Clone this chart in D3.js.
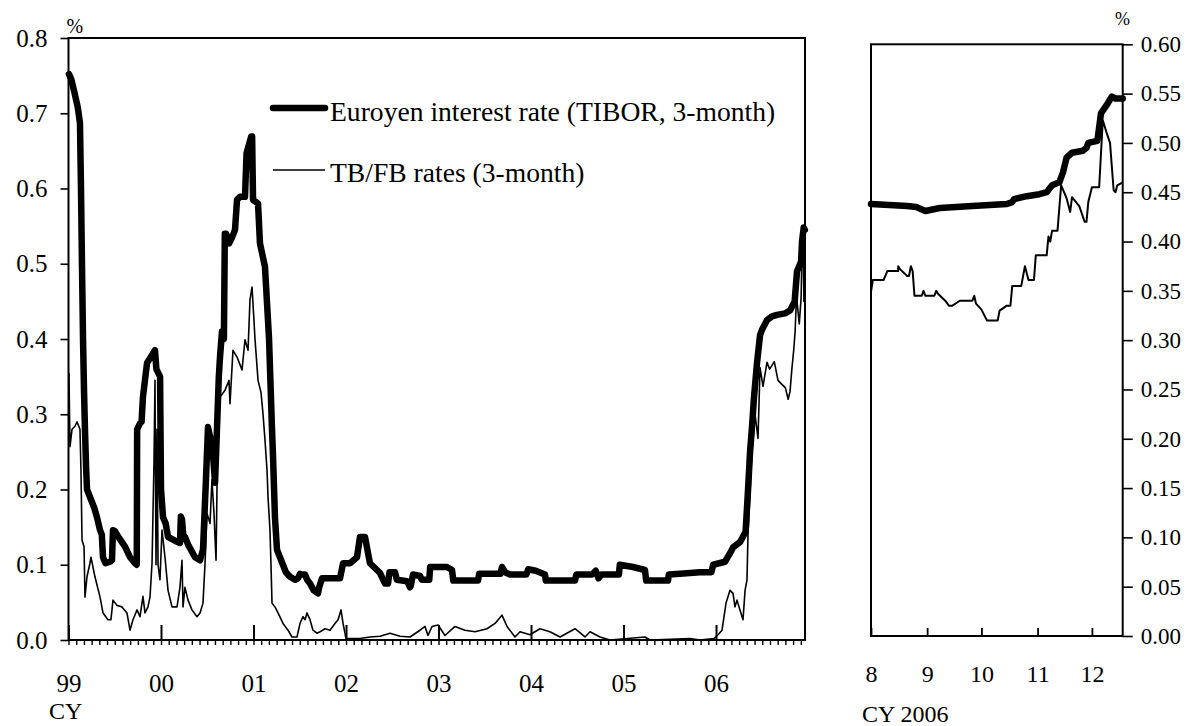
<!DOCTYPE html>
<html>
<head>
<meta charset="utf-8">
<script src="https://cdn.jsdelivr.net/npm/d3@7"></script>
<style>
  html, body { margin: 0; padding: 0; background: #fff; }
  svg { display: block; }
  svg text { font-family: "Liberation Serif", "Times New Roman", serif; fill: #000; }
</style>
</head>
<body>
<svg id="chart" width="1189" height="726"></svg>
<script>
// ---------- Data ----------
// Long view, January 1999 - December 2006 (decimal year, % p.a.)
const tiborLong = [
  [1999.005,0.752],[1999.03,0.745],[1999.06,0.73],[1999.10,0.708],[1999.124,0.687],
  [1999.135,0.60],[1999.146,0.496],[1999.157,0.40],[1999.168,0.33],[1999.178,0.28],
  [1999.19,0.23],[1999.20,0.20],[1999.232,0.19],[1999.28,0.175],[1999.308,0.163],
  [1999.341,0.146],[1999.36,0.14],[1999.373,0.11],[1999.40,0.102],[1999.45,0.104],
  [1999.47,0.106],[1999.481,0.146],[1999.50,0.145],[1999.55,0.135],[1999.611,0.124],
  [1999.665,0.11],[1999.719,0.102],[1999.738,0.10],[1999.742,0.28],[1999.773,0.288],
  [1999.79,0.29],[1999.805,0.323],[1999.849,0.368],[1999.90,0.378],[1999.935,0.385],
  [1999.95,0.36],[1999.97,0.355],[1999.99,0.35],[2000.0,0.20],[2000.022,0.163],
  [2000.05,0.155],[2000.076,0.137],[2000.15,0.132],[2000.205,0.129],[2000.215,0.164],
  [2000.227,0.16],[2000.24,0.14],[2000.259,0.137],[2000.30,0.125],[2000.368,0.11],
  [2000.422,0.106],[2000.454,0.12],[2000.486,0.213],[2000.508,0.283],[2000.53,0.27],
  [2000.551,0.266],[2000.584,0.209],[2000.605,0.28],[2000.625,0.35],[2000.638,0.376],
  [2000.659,0.41],[2000.68,0.40],[2000.69,0.54],[2000.703,0.54],[2000.735,0.527],
  [2000.768,0.535],[2000.80,0.545],[2000.822,0.585],[2000.854,0.589],[2000.908,0.589],
  [2000.925,0.647],[2000.975,0.669],[2000.985,0.669],[2000.995,0.585],[2001.049,0.58],
  [2001.07,0.527],[2001.124,0.496],[2001.145,0.45],[2001.168,0.40],[2001.20,0.28],
  [2001.211,0.244],[2001.232,0.163],[2001.254,0.12],[2001.286,0.11],[2001.35,0.09],
  [2001.395,0.084],[2001.449,0.08],[2001.48,0.082],[2001.503,0.088],[2001.53,0.087],
  [2001.557,0.087],[2001.58,0.08],[2001.611,0.075],[2001.65,0.066],[2001.697,0.062],
  [2001.71,0.07],[2001.741,0.082],[2001.935,0.082],[2001.968,0.102],[2002.043,0.102],
  [2002.119,0.11],[2002.151,0.137],[2002.205,0.137],[2002.259,0.102],[2002.368,0.089],
  [2002.422,0.075],[2002.454,0.075],[2002.47,0.09],[2002.53,0.09],[2002.55,0.08],
  [2002.66,0.078],[2002.692,0.07],[2002.70,0.072],[2002.724,0.087],[2002.80,0.085],
  [2002.82,0.08],[2002.90,0.08],[2002.91,0.097],[2003.092,0.097],[2003.146,0.093],
  [2003.16,0.079],[2003.427,0.079],[2003.44,0.088],[2003.67,0.088],[2003.686,0.097],
  [2003.72,0.09],[2003.773,0.087],[2003.95,0.087],[2003.97,0.094],[2004.05,0.092],
  [2004.151,0.087],[2004.16,0.079],[2004.476,0.079],[2004.49,0.087],[2004.66,0.087],
  [2004.70,0.092],[2004.73,0.082],[2004.76,0.087],[2004.95,0.087],[2004.96,0.10],
  [2005.103,0.097],[2005.232,0.093],[2005.245,0.079],[2005.481,0.079],[2005.49,0.087],
  [2005.611,0.088],[2005.827,0.09],[2005.95,0.09],[2005.97,0.10],[2006.097,0.104],
  [2006.15,0.115],[2006.184,0.123],[2006.259,0.13],[2006.32,0.144],[2006.346,0.199],
  [2006.368,0.25],[2006.389,0.283],[2006.411,0.323],[2006.443,0.368],[2006.476,0.405],
  [2006.50,0.413],[2006.551,0.425],[2006.605,0.43],[2006.659,0.432],[2006.746,0.434],
  [2006.80,0.438],[2006.85,0.45],[2006.876,0.49],[2006.92,0.503],[2006.93,0.53],
  [2006.948,0.548],[2006.96,0.545]
];

const tbfbLong = [
  [1999.005,0.355],[1999.011,0.30],[1999.016,0.257],[1999.038,0.28],[1999.07,0.284],
  [1999.092,0.29],[1999.124,0.28],[1999.135,0.225],[1999.146,0.133],[1999.168,0.124],
  [1999.178,0.057],[1999.20,0.084],[1999.232,0.102],[1999.243,0.11],[1999.286,0.084],
  [1999.341,0.057],[1999.373,0.036],[1999.427,0.027],[1999.459,0.027],[1999.481,0.053],
  [1999.524,0.046],[1999.578,0.044],[1999.632,0.036],[1999.665,0.013],[1999.697,0.027],
  [1999.741,0.04],[1999.773,0.031],[1999.805,0.058],[1999.827,0.036],[1999.859,0.044],
  [1999.881,0.057],[1999.903,0.102],[1999.924,0.235],[1999.935,0.345],[1999.946,0.10],
  [1999.957,0.28],[1999.968,0.10],[1999.989,0.08],[2000.011,0.146],[2000.043,0.11],
  [2000.076,0.066],[2000.119,0.044],[2000.173,0.044],[2000.205,0.07],[2000.227,0.106],
  [2000.238,0.044],[2000.259,0.07],[2000.292,0.053],[2000.335,0.04],[2000.389,0.031],
  [2000.422,0.036],[2000.454,0.049],[2000.476,0.102],[2000.497,0.168],[2000.53,0.155],
  [2000.551,0.213],[2000.573,0.168],[2000.595,0.106],[2000.616,0.30],[2000.638,0.323],
  [2000.692,0.332],[2000.735,0.345],[2000.746,0.314],[2000.778,0.385],[2000.822,0.376],
  [2000.876,0.359],[2000.908,0.399],[2000.941,0.385],[2000.962,0.452],[2000.984,0.469],
  [2001.005,0.425],[2001.016,0.40],[2001.049,0.345],[2001.081,0.329],[2001.103,0.30],
  [2001.124,0.266],[2001.146,0.226],[2001.157,0.19],[2001.178,0.146],[2001.189,0.10],
  [2001.20,0.049],[2001.232,0.044],[2001.265,0.036],[2001.319,0.022],[2001.373,0.013],
  [2001.416,0.004],[2001.47,0.004],[2001.503,0.022],[2001.535,0.031],[2001.557,0.027],
  [2001.578,0.036],[2001.611,0.027],[2001.643,0.013],[2001.686,0.009],[2001.719,0.011],
  [2001.773,0.015],[2001.827,0.013],[2001.881,0.022],[2001.914,0.027],[2001.946,0.04],
  [2001.968,0.022],[2002.0,0.002],[2002.151,0.002],[2002.259,0.004],[2002.368,0.005],
  [2002.476,0.009],[2002.584,0.005],[2002.692,0.004],[2002.80,0.013],[2002.854,0.018],
  [2002.886,0.006],[2002.93,0.018],[2002.995,0.02],[2003.07,0.006],[2003.178,0.018],
  [2003.286,0.013],[2003.395,0.011],[2003.524,0.015],[2003.611,0.022],[2003.686,0.033],
  [2003.741,0.018],[2003.827,0.004],[2003.881,0.011],[2003.989,0.007],[2004.097,0.015],
  [2004.205,0.011],[2004.314,0.004],[2004.476,0.015],[2004.584,0.004],[2004.638,0.011],
  [2004.746,0.004],[2004.854,0.0],[2005.232,0.004],[2005.286,0.0],[2005.719,0.002],
  [2005.827,0.0],[2005.978,0.002],[2006.022,0.007],[2006.065,0.013],[2006.108,0.049],
  [2006.151,0.066],[2006.184,0.062],[2006.205,0.044],[2006.227,0.053],[2006.259,0.04],
  [2006.292,0.027],[2006.314,0.066],[2006.335,0.08],[2006.346,0.142],[2006.389,0.25],
  [2006.422,0.30],[2006.454,0.268],[2006.476,0.362],[2006.508,0.337],[2006.551,0.369],
  [2006.58,0.36],[2006.63,0.37],[2006.67,0.345],[2006.75,0.335],[2006.78,0.32],
  [2006.80,0.33],[2006.82,0.36],[2006.84,0.385],[2006.855,0.41],[2006.87,0.457],
  [2006.90,0.42],[2006.92,0.455],[2006.93,0.52],[2006.945,0.50],[2006.95,0.45],
  [2006.96,0.46]
];

// Close-up, August - December 2006
const tiborRecent = [
  ["2006-08-01",0.438],["2006-08-21",0.436],["2006-08-26",0.435],["2006-08-31",0.431],
  ["2006-09-08",0.434],["2006-09-26",0.436],["2006-10-15",0.438],["2006-10-18",0.44],
  ["2006-10-19",0.443],["2006-10-26",0.446],["2006-11-02",0.448],["2006-11-06",0.45],
  ["2006-11-09",0.457],["2006-11-13",0.46],["2006-11-15",0.47],["2006-11-17",0.485],
  ["2006-11-20",0.49],["2006-11-26",0.492],["2006-11-28",0.495],["2006-11-29",0.50],
  ["2006-12-04",0.502],["2006-12-06",0.53],["2006-12-09",0.538],["2006-12-12",0.547],
  ["2006-12-14",0.545],["2006-12-18",0.545]
];

const tbfbRecent = [
  ["2006-08-01",0.349],["2006-08-02",0.361],["2006-08-08",0.361],["2006-08-10",0.37],
  ["2006-08-16",0.37],["2006-08-16",0.375],["2006-08-17",0.372],["2006-08-21",0.365],
  ["2006-08-22",0.365],["2006-08-23",0.375],["2006-08-24",0.37],["2006-08-25",0.345],
  ["2006-08-29",0.345],["2006-08-30",0.35],["2006-08-31",0.345],["2006-09-05",0.345],
  ["2006-09-06",0.35],["2006-09-07",0.347],["2006-09-11",0.34],["2006-09-13",0.335],
  ["2006-09-15",0.335],["2006-09-19",0.34],["2006-09-26",0.34],["2006-09-27",0.345],
  ["2006-09-28",0.337],["2006-10-01",0.331],["2006-10-04",0.32],["2006-10-10",0.32],
  ["2006-10-11",0.33],["2006-10-15",0.335],["2006-10-17",0.335],["2006-10-18",0.355],
  ["2006-10-23",0.355],["2006-10-25",0.375],["2006-10-27",0.361],["2006-10-30",0.361],
  ["2006-10-31",0.386],["2006-11-06",0.386],["2006-11-07",0.405],["2006-11-08",0.40],
  ["2006-11-09",0.411],["2006-11-12",0.411],["2006-11-14",0.457],["2006-11-17",0.444],
  ["2006-11-19",0.43],["2006-11-20",0.445],["2006-11-24",0.436],["2006-11-27",0.42],
  ["2006-11-28",0.42],["2006-11-29",0.44],["2006-12-01",0.455],["2006-12-05",0.455],
  ["2006-12-07",0.523],["2006-12-09",0.511],["2006-12-11",0.50],["2006-12-13",0.452],
  ["2006-12-14",0.45],["2006-12-15",0.457],["2006-12-18",0.46]
];

// Axis labels
const yearLabels  = ["99","00","01","02","03","04","05","06"];
const monthLabels = ["8","9","10","11","12"];
const leftTicks   = [0,0.1,0.2,0.3,0.4,0.5,0.6,0.7,0.8];
const rightTicks  = [0,0.05,0.10,0.15,0.20,0.25,0.30,0.35,0.40,0.45,0.50,0.55,0.60];
const seriesNames = ["Euroyen interest rate (TIBOR, 3-month)", "TB/FB rates (3-month)"];

// ---------- Drawing ----------
const svg = d3.select("#chart");
const parse = d3.timeParse("%Y-%m-%d");
const INK = "#000";
const SERIF = '"Liberation Serif", "Times New Roman", serif';
const THICK = 6.5, THIN = 1.6;

function styleAxis(g, size, lineWidth) {
  g.attr("font-family", null).attr("font-size", null);
  g.select(".domain").remove();
  g.selectAll("line").attr("stroke", INK).attr("stroke-width", lineWidth);
  g.selectAll("text").style("font-family", SERIF).style("font-size", size + "px").attr("fill", INK);
}

// Left panel: long history
const L = { x0: 68.5, x1: 805, y0: 38, y1: 640 };
const xL = d3.scaleLinear().domain([1999, 2006.962]).range([L.x0, L.x1]);
const yL = d3.scaleLinear().domain([0, 0.8]).range([L.y1, L.y0]);

const gL = svg.append("g");
gL.append("rect")
  .attr("x", L.x0).attr("y", L.y0)
  .attr("width", L.x1 - L.x0).attr("height", L.y1 - L.y0)
  .attr("fill", "none").attr("stroke", INK).attr("stroke-width", 2);

// y axis (left)
gL.append("g").attr("transform", `translate(${L.x0},0)`)
  .call(d3.axisLeft(yL).tickValues(leftTicks).tickSize(8).tickPadding(13)
    .tickFormat(d3.format(".1f")))
  .call(styleAxis, 25, 1.6);

// monthly ticks below the axis
const months = d3.range(0, 96).map(i => 1999 + i / 12).filter(t => t <= 2006.962);
gL.append("g").attr("transform", `translate(0,${L.y1})`)
  .call(d3.axisBottom(xL).tickValues(months).tickSize(5).tickFormat(""))
  .call(styleAxis, 25, 1.4);

// year ticks inside the frame + year labels
const years = yearLabels.map((_, i) => 1999 + i);
gL.append("g").attr("transform", `translate(0,${L.y1})`)
  .call(d3.axisBottom(xL).tickValues(years).tickSizeInner(-15).tickSizeOuter(0)
    .tickPadding(34).tickFormat((d, i) => yearLabels[i]))
  .call(styleAxis, 25, 2);

gL.append("text").attr("x", 49).attr("y", 719).style("font-size", "24px").text("CY");
gL.append("text").attr("x", 66.5).attr("y", 33).style("font-size", "20px").text("%");

const lineL = d3.line().x(d => xL(d[0])).y(d => yL(d[1]));
gL.append("path").datum(tbfbLong).attr("d", lineL)
  .attr("fill", "none").attr("stroke", INK).attr("stroke-width", THIN)
  .attr("stroke-linejoin", "round");
gL.append("path").datum(tiborLong).attr("d", lineL)
  .attr("fill", "none").attr("stroke", INK).attr("stroke-width", THICK)
  .attr("stroke-linejoin", "round").attr("stroke-linecap", "round");

// legend
const leg = gL.append("g");
leg.append("line").attr("x1", 273).attr("x2", 325).attr("y1", 108).attr("y2", 108)
  .attr("stroke", INK).attr("stroke-width", THICK).attr("stroke-linecap", "round");
leg.append("line").attr("x1", 273).attr("x2", 325).attr("y1", 170).attr("y2", 170)
  .attr("stroke", INK).attr("stroke-width", THIN);
leg.append("text").attr("x", 330).attr("y", 120.5).style("font-size", "27.6px").text(seriesNames[0]);
leg.append("text").attr("x", 330).attr("y", 181.5).style("font-size", "27.6px").text(seriesNames[1]);

// Right panel: recent months
const R = { x0: 871, x1: 1122.7, y0: 44.3, y1: 636 };
const xR = d3.scaleTime().domain([new Date(2006, 7, 1), new Date(2006, 11, 18)]).range([R.x0, R.x1]);
const yR = d3.scaleLinear().domain([0, 0.6]).range([R.y1, R.y0]);

const gR = svg.append("g");
gR.append("rect")
  .attr("x", R.x0).attr("y", R.y0)
  .attr("width", R.x1 - R.x0).attr("height", R.y1 - R.y0)
  .attr("fill", "none").attr("stroke", INK).attr("stroke-width", 2);

gR.append("g").attr("transform", `translate(${R.x1},0)`)
  .call(d3.axisRight(yR).tickValues(rightTicks).tickSize(10).tickPadding(8)
    .tickFormat(d3.format(".2f")))
  .call(styleAxis, 23, 1.6);

const monthStarts = monthLabels.map(m => new Date(2006, +m - 1, 1));
gR.append("g").attr("transform", `translate(0,${R.y1})`)
  .call(d3.axisBottom(xR).tickValues(monthStarts).tickSizeInner(-8).tickSizeOuter(0)
    .tickPadding(29).tickFormat((d, i) => monthLabels[i]))
  .call(styleAxis, 24, 1.8);

gR.append("text").attr("x", 862).attr("y", 722).style("font-size", "24px").text("CY 2006");
gR.append("text").attr("x", 1115).attr("y", 25).style("font-size", "18px").text("%");

const lineR = d3.line().x(d => xR(parse(d[0]))).y(d => yR(d[1]));
gR.append("path").datum(tbfbRecent).attr("d", lineR)
  .attr("fill", "none").attr("stroke", INK).attr("stroke-width", 2)
  .attr("stroke-linejoin", "round");
gR.append("path").datum(tiborRecent).attr("d", lineR)
  .attr("fill", "none").attr("stroke", INK).attr("stroke-width", THICK)
  .attr("stroke-linejoin", "round").attr("stroke-linecap", "round");
</script>
</body>
</html>
